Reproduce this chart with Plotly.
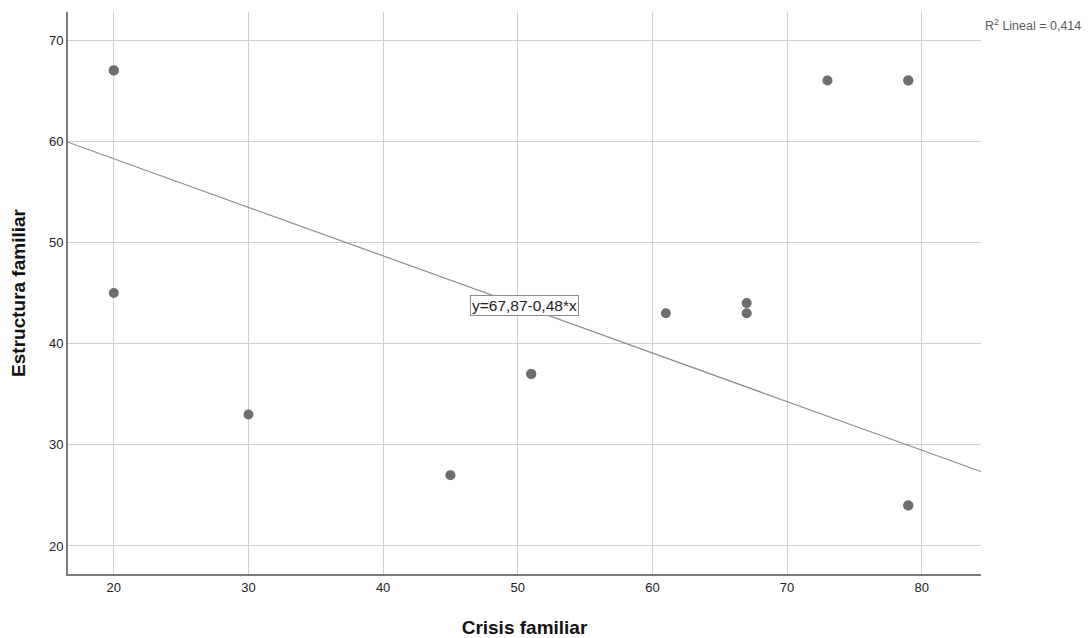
import plotly.graph_objects as go

crisis = [20, 20, 20, 30, 45, 51, 51, 61, 67, 67, 73, 79, 79, 79, 79]
estructura = [67, 67, 45, 33, 27, 37, 37, 43, 44, 43, 66, 66, 66, 24, 24]
intercept = 67.87
slope = -0.48
r2_text = "R<sup>2</sup> Lineal = 0,414"
eq_text = "y=67,87-0,48*x"
x_range = [16.6, 84.4]
y_range = [17.23, 72.77]
x_ticks = [20, 30, 40, 50, 60, 70, 80]
y_ticks = [20, 30, 40, 50, 60, 70]

fig = go.Figure()
fig.add_trace(go.Scatter(
    x=x_range, y=[intercept + slope * v for v in x_range],
    mode="lines", line=dict(color="#8c8c8c", width=1.2),
    hoverinfo="skip", showlegend=False))
fig.add_trace(go.Scatter(
    x=crisis, y=estructura, mode="markers",
    marker=dict(color="#6e6e6e", size=10, line=dict(width=0)),
    showlegend=False))

fig.add_annotation(x=50.5, y=43.8, text=eq_text, showarrow=False,
                   font=dict(family="Liberation Sans, Arial", size=15.5, color="#222"),
                   bgcolor="white", bordercolor="#8c8c8c", borderwidth=1, borderpad=1)
fig.add_annotation(xref="paper", yref="paper", x=1.002, y=0.995, xanchor="left", yanchor="top",
                   text=r2_text, showarrow=False,
                   font=dict(family="Liberation Sans, Arial", size=12.5, color="#5a5a5a"))

fig.update_layout(
    width=1084, height=630,
    margin=dict(l=60, r=111, t=4, b=64),
    paper_bgcolor="white", plot_bgcolor="white",
    font=dict(family="Liberation Sans, Arial", size=13, color="#222"),
    xaxis=dict(range=x_range, tickvals=x_ticks, showgrid=True, gridcolor="#cfcfcf",
               gridwidth=1, showline=True, linecolor="#7a7a7a", linewidth=2,
               zeroline=False, ticks="", ticklen=0, automargin=False,
               title=dict(text="<b>Crisis familiar</b>", font=dict(size=19, color="#111"), standoff=27)),
    yaxis=dict(range=y_range, tickvals=y_ticks, showgrid=True, gridcolor="#cfcfcf",
               gridwidth=1, showline=True, linecolor="#7a7a7a", linewidth=2,
               zeroline=False, ticks="", ticklen=0, automargin=False,
               title=dict(text="<b>Estructura familiar</b>", font=dict(size=19, color="#111"), standoff=20)),
)
fig.write_html("out.html")
